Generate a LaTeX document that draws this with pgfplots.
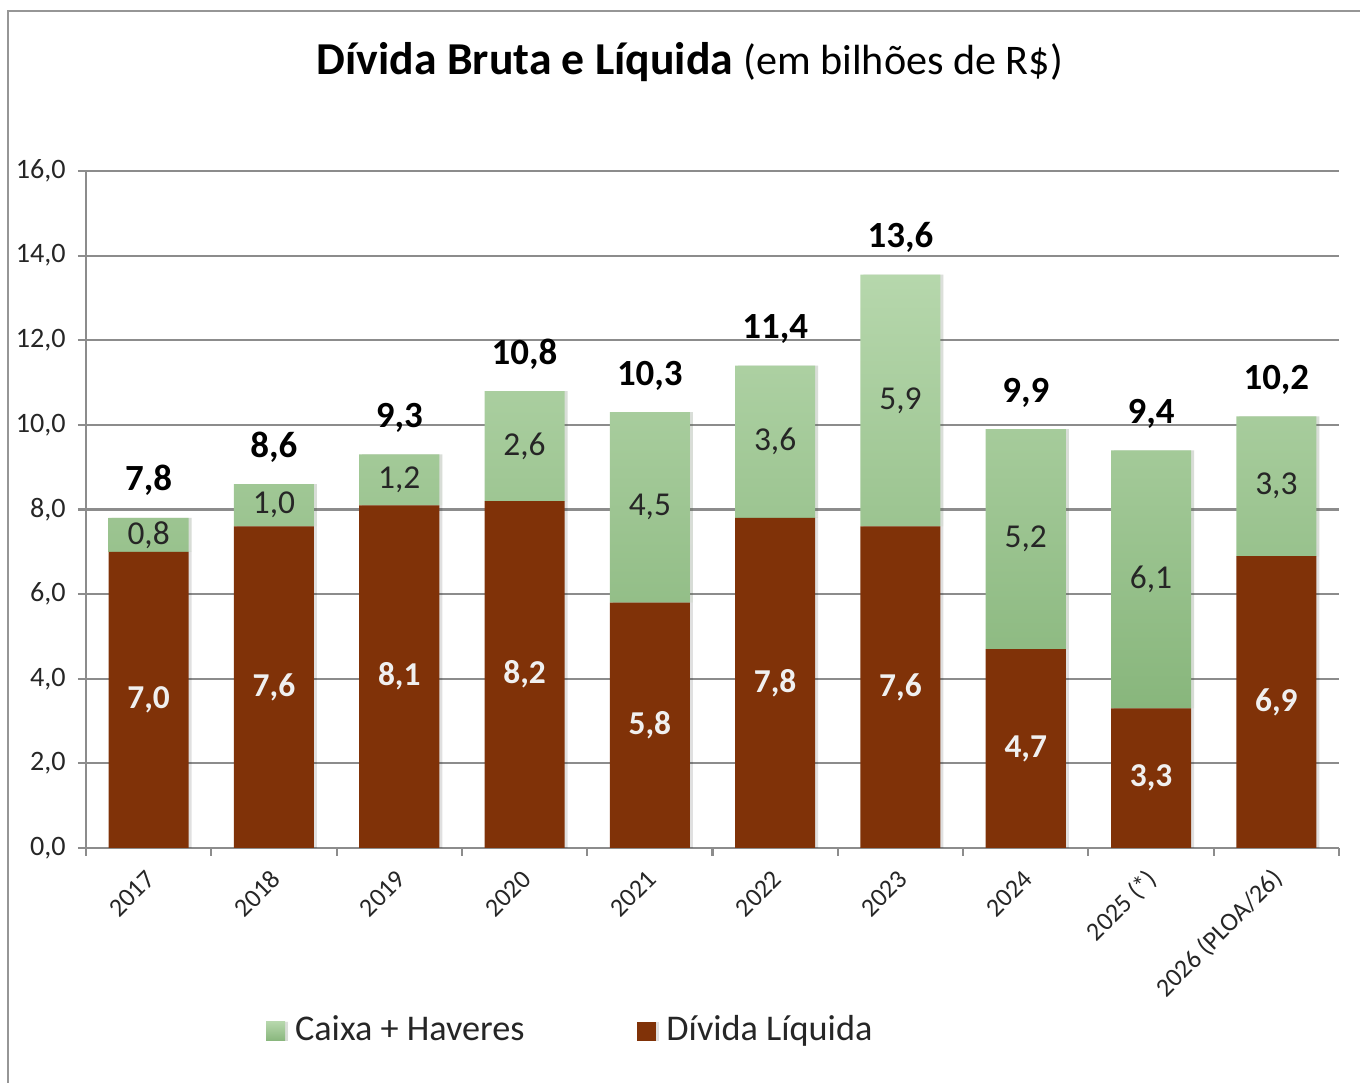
\documentclass[border=0pt]{standalone}
\usepackage{fontspec}
\setmainfont{Carlito}
\usepackage{pgfplots}
\usepackage{pgfplotstable}
\pgfplotsset{compat=1.18}
\definecolor{dlbrown}{RGB}{128,50,8}
\definecolor{cxtop}{RGB}{182,215,172}
\definecolor{cxbot}{RGB}{136,182,124}
\definecolor{gridc}{RGB}{140,140,140}
\definecolor{framec}{RGB}{150,150,150}

\pgfplotstableread{
x liq cx totv liqlab cxlab totlab
0 7.0 0.8 7.8 7,0 0,8 7,8
1 7.6 1.0 8.6 7,6 1,0 8,6
2 8.1 1.2 9.3 8,1 1,2 9,3
3 8.2 2.6 10.8 8,2 2,6 10,8
4 5.8 4.5 10.3 5,8 4,5 10,3
5 7.8 3.6 11.4 7,8 3,6 11,4
6 7.6 5.95 13.55 7,6 5,9 13,6
7 4.7 5.2 9.9 4,7 5,2 9,9
8 3.3 6.1 9.4 3,3 6,1 9,4
9 6.9 3.3 10.2 6,9 3,3 10,2
}\data

\pgfplotsset{frame/.style={
  at={(8.6mm,23.5mm)}, anchor=south west,
  scale only axis, width=125.3mm, height=67.7mm,
  xmin=-0.5, xmax=9.5, ymin=0, ymax=16,
  enlargelimits=false, clip=false}}

\begin{document}
\begin{tikzpicture}
\path[use as bounding box] (0,0) rectangle (136mm,108.3mm);
\draw[framec, line width=0.7pt] (0.8mm,0) -- (0.8mm,107.2mm) -- (136.5mm,107.2mm);
\begin{axis}[
  frame,
  ybar stacked, bar width=8mm,
  ytick={0,2,...,16},
  /pgf/number format/.cd, fixed, fixed zerofill, precision=1, use comma, assume math mode=true,
  /pgfplots/.cd,
  x tick label as interval,
  xtick={-0.5,0.5,...,9.5},
  xticklabels={2017,2018,2019,2020,2021,2022,2023,2024,2025 (*),2026 (PLOA/26)},
  xticklabel style={yshift=-1.6mm, xshift=0.5mm, rotate=45, anchor=east, inner sep=1pt, font=\fontsize{7.4}{9}\selectfont},
  yticklabel style={font=\fontsize{8}{9}\selectfont},
  axis x line*=bottom, axis y line*=left,
  axis line style={gridc, line width=0.6pt},
  tick style={gridc, line width=0.6pt},
  tick align=outside, major tick length=0.8mm,
  ymajorgrids, grid style={gridc, line width=0.6pt},
  every tick label/.append style={text=black!85},
  legend style={at={(0.3885,-0.27)}, anchor=center, draw=none, fill=none,
    legend columns=2, /tikz/every even column/.append style={column sep=10.6mm},
    font=\fontsize{10.3}{12}\selectfont, text=black!85,
    /tikz/every odd column/.append style={column sep=0.3mm}},
  legend image code/.code={\draw[#1, draw=none] (0mm,-1mm) rectangle (1.9mm,0.9mm);},
  reverse legend,
]
\addplot[fill=dlbrown, draw=none,
  preaction={fill=black, fill opacity=0.12, transform canvas={xshift=0.3mm}},
  nodes near coords, point meta=explicit symbolic,
  nodes near coords style={anchor=center,
    font=\bfseries\fontsize{9.5}{11}\selectfont, text=black!6}]
  table[x=x, y=liq, meta=liqlab]{\data};
\addplot[top color=cxtop, bottom color=cxbot, draw=none,
  preaction={fill=black, fill opacity=0.12, transform canvas={xshift=0.3mm}},
  nodes near coords, point meta=explicit symbolic,
  nodes near coords style={anchor=center,
    font=\fontsize{9.5}{11}\selectfont, text=black!85}]
  table[x=x, y=cx, meta=cxlab]{\data};
\legend{Dívida Líquida, Caixa + Haveres}
\end{axis}
\begin{axis}[frame, hide axis]
\addplot[draw=none, mark=none,
  nodes near coords, point meta=explicit symbolic,
  nodes near coords style={anchor=base, yshift=2.7mm, inner sep=0pt,
    font=\bfseries\fontsize{10.5}{12}\selectfont, text=black}]
  table[x=x, y=totv, meta=totlab]{\data};
\end{axis}
\node[anchor=center, text=black] at (69mm,102.1mm)
  {\fontsize{13}{15}\selectfont\bfseries Dívida Bruta e Líquida \fontsize{12}{14}\selectfont\mdseries (em bilhões de R\$)};
\end{tikzpicture}
\end{document}
